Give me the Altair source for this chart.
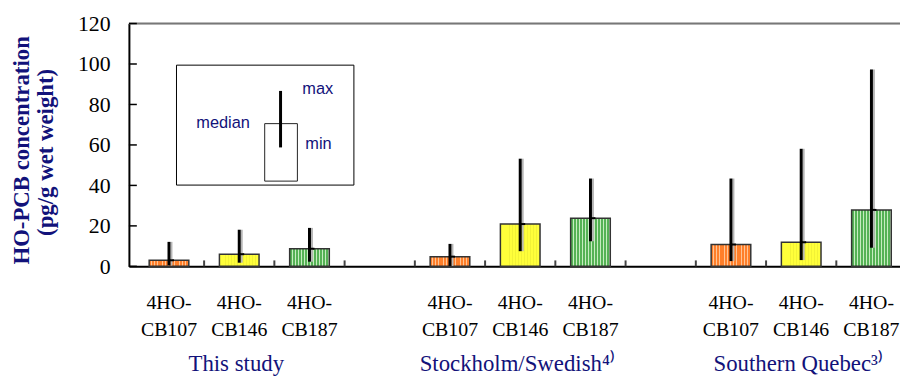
import altair as alt
import pandas as pd

# ---- data ----
groups = ["This study", "Stockholm/Swedish⁴⁾", "Southern Quebec³⁾"]
compounds = ["CB107", "CB146", "CB187"]
prefix = "4HO-"
median_vals = [3.0, 6.0, 8.7, 4.8, 20.9, 23.8, 10.8, 11.9, 27.9]
min_vals = [0.5, 1.8, 2.3, 0.2, 7.5, 12.4, 2.6, 3.1, 9.2]
max_vals = [12.1, 18.1, 19.0, 11.1, 53.2, 43.4, 43.4, 58.1, 97.3]
y_ticks = [0, 20, 40, 60, 80, 100, 120]

# slot layout: 3 bars + 1 empty slot per group
rows = []
k = 0
for gi, g in enumerate(groups):
    for ci, c in enumerate(compounds):
        rows.append({
            "group": g, "compound": c, "prefix": prefix,
            "pos": gi * 4 + ci + 0.5,
            "median": median_vals[k], "min": min_vals[k], "max": max_vals[k],
        })
        k += 1
df = pd.DataFrame(rows)
grp_df = pd.DataFrame({"group": groups, "pos": [gi * 4 + 1.5 for gi in range(len(groups))]})
slot_df = pd.DataFrame({"b": [float(i) for i in range(1, 11)]})
ytick_df = pd.DataFrame({"v": y_ticks})
one = pd.DataFrame({"a": [0]})

W, H = 778, 245
NAVY = "#12127a"

xs = alt.Scale(domain=[0, 10.836], nice=False, zero=False)
ys = alt.Scale(domain=[0, 120], nice=False)


def stripes(dark, light, n, frac_light):
    stops = []
    for i in range(n):
        a = i / n
        b = (i + 1 - frac_light) / n
        c = (i + 1) / n
        stops += [
            {"offset": a, "color": dark}, {"offset": b, "color": dark},
            {"offset": b, "color": light}, {"offset": c, "color": light},
        ]
    return {"gradient": "linear", "x1": 0, "y1": 0, "x2": 1, "y2": 0, "stops": stops}


fills = {
    "CB107": stripes("#ff7f2a", "#ffc494", 14, 0.3),
    "CB146": stripes("#ffff3a", "#f2f236", 13, 0.3),
    "CB187": stripes("#55b255", "#c6ecc0", 13, 0.35),
}

X = alt.X("pos:Q", scale=xs, axis=alt.Axis(labels=False, ticks=False, grid=False,
                                           domainColor="black", domainWidth=2, title=None))
Y = alt.Y("median:Q", scale=ys, axis=alt.Axis(values=y_ticks, ticks=False, grid=False,
                                             labelFont="Liberation Serif", labelFontSize=22,
                                             labelColor="black", labelPadding=19,
                                             domainColor="black", domainWidth=2, title=None))

layers = []
for c in compounds:
    layers.append(
        alt.Chart(df).transform_filter(alt.datum.compound == c)
        .mark_bar(size=40, orient="vertical", fill=fills[c], stroke="#333", strokeWidth=1.5)
        .encode(x=X, y=Y, y2=alt.datum(0))
    )

shadow = alt.Chart(df).mark_rule(color="#b5b5b5", strokeWidth=2, xOffset=2.5).encode(
    x=alt.X("pos:Q", scale=xs), y=alt.Y("min:Q", scale=ys), y2="max:Q")
whisk = alt.Chart(df).mark_rule(color="black", strokeWidth=3).encode(
    x=alt.X("pos:Q", scale=xs), y=alt.Y("min:Q", scale=ys), y2="max:Q")
medtick = alt.Chart(df).mark_rule(color="black", strokeWidth=2, x2Offset=5).encode(
    x=alt.X("pos:Q", scale=xs), x2="pos:Q", y=alt.Y("median:Q", scale=ys))

top_line = alt.Chart(one).mark_rule(color="#777", strokeWidth=2).encode(
    x=alt.value(0), x2=alt.value(W), y=alt.value(0))
xticks = alt.Chart(slot_df).mark_rule(color="#444", strokeWidth=2).encode(
    x=alt.X("b:Q", scale=xs), y=alt.value(H - 6), y2=alt.value(H))
yticks = alt.Chart(ytick_df).mark_rule(color="black", strokeWidth=1.5).encode(
    y=alt.Y("v:Q", scale=ys), x=alt.value(0), x2=alt.value(8))

lab1 = alt.Chart(df).mark_text(font="Liberation Serif", fontSize=20, color="black",
                               baseline="alphabetic", align="center").encode(
    x=alt.X("pos:Q", scale=xs), y=alt.value(288), text="prefix:N")
lab2 = alt.Chart(df).mark_text(font="Liberation Serif", fontSize=20, color="black",
                               baseline="alphabetic", align="center").encode(
    x=alt.X("pos:Q", scale=xs), y=alt.value(315), text="compound:N")
glab = alt.Chart(grp_df).mark_text(font="Liberation Serif", fontSize=23, color=NAVY,
                                   baseline="alphabetic", align="center", dx=-3).encode(
    x=alt.X("pos:Q", scale=xs), y=alt.value(351), text="group:N")

ytitle1 = alt.Chart(one).mark_text(font="Liberation Serif", fontSize=23, fontWeight="bold",
                                   color=NAVY, angle=270, baseline="middle", align="center").encode(
    x=alt.value(-108), y=alt.value(128), text=alt.value("HO-PCB concentration"))
ytitle2 = alt.Chart(one).mark_text(font="Liberation Serif", fontSize=23, fontWeight="bold",
                                   color=NAVY, angle=270, baseline="middle", align="center").encode(
    x=alt.value(-84), y=alt.value(130), text=alt.value("(pg/g wet weight)"))

# explanatory key box
key_box = alt.Chart(one).mark_rect(fill="white", stroke="black", strokeWidth=1).encode(
    x=alt.value(48), x2=alt.value(227), y=alt.value(42), y2=alt.value(163))
key_bar = alt.Chart(one).mark_rect(fill="white", stroke="#222", strokeWidth=1).encode(
    x=alt.value(137), x2=alt.value(170), y=alt.value(101), y2=alt.value(159))
key_line = alt.Chart(one).mark_rule(color="black", strokeWidth=3).encode(
    x=alt.value(153), y=alt.value(68), y2=alt.value(125))
key_txt = [
    ("max", 175, 66), ("median", 68, 100), ("min", 178, 122),
]
key_texts = [
    alt.Chart(one).mark_text(font="Liberation Sans", fontSize=16.5, color=NAVY,
                             align="left", baseline="middle").encode(
        x=alt.value(xx), y=alt.value(yy), text=alt.value(t))
    for t, xx, yy in key_txt
]

chart = alt.layer(
    *layers, shadow, whisk, medtick, top_line, xticks, yticks,
    lab1, lab2, glab, ytitle1, ytitle2, key_box, key_bar, key_line, *key_texts
).properties(
    width=W, height=H,
    autosize=alt.AutoSizeParams(type="none"),
    padding={"left": 122, "top": 14, "right": 0, "bottom": 113},
).configure_view(stroke=None).configure(background="white")

chart.save("out.html", embed_options={"renderer": "svg", "actions": False})
